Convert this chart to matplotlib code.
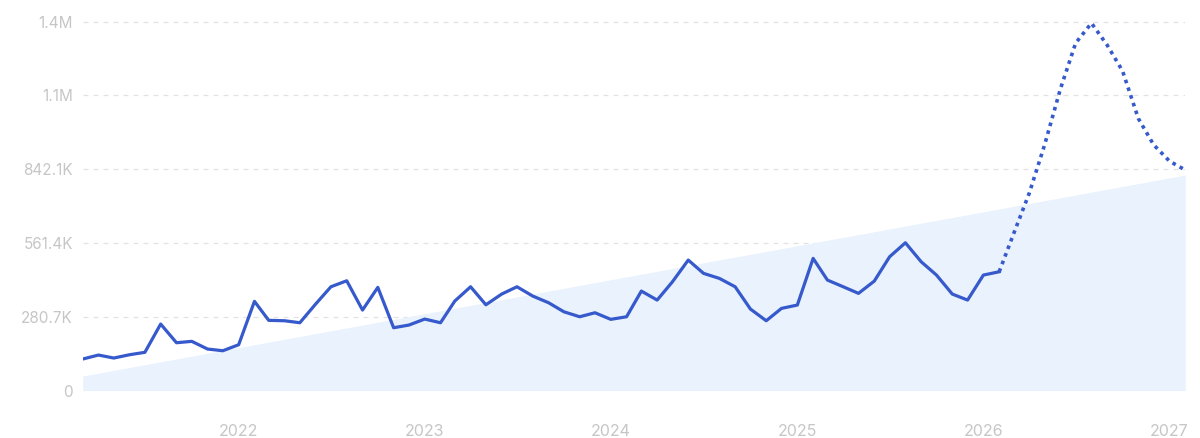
import matplotlib
matplotlib.use("Agg")
import matplotlib.pyplot as plt
import matplotlib.dates as dates
import pandas as pd

# monthly search volume, Mar 2021 .. Feb 2026 (actual)
actual_values = [
    119.8e3, 135.0e3, 123.6e3, 136.2e3, 145.3e3, 252.9e3, 181.8e3, 187.1e3, 157.8e3, 151.4e3,
    174.2e3, 339.3e3, 267.0e3, 265.5e3, 257.9e3, 329.0e3, 394.8e3, 417.6e3, 306.2e3, 392.5e3,
    238.9e3, 249.1e3, 271.9e3, 257.9e3, 340.4e3, 394.8e3, 326.3e3, 367.0e3, 394.8e3, 359.4e3,
    334.0e3, 299.7e3, 280.7e3, 295.9e3, 270.8e3, 280.7e3, 378.4e3, 344.2e3, 413.8e3, 496.4e3,
    445.8e3, 426.7e3, 394.8e3, 310.0e3, 265.5e3, 312.6e3, 325.2e3, 502.8e3, 420.3e3, 394.8e3,
    369.7e3, 416.5e3, 508.9e3, 562.2e3, 489.9e3, 439.3e3, 367.0e3, 344.2e3, 439.3e3, 451.9e3,
]
# forecast, Feb 2026 .. Feb 2027
forecast_values = [
    451.9e3, 595e3, 751e3, 934e3, 1147e3, 1322e3, 1398e3, 1314e3, 1216e3, 1035e3,
    935e3, 873e3, 839e3,
]
# trend band: start and end value
trend_values = [55e3, 820e3]

y_ticks = [0, 280.7e3, 561.4e3, 842.1e3, 1122.8e3, 1403.5e3]
y_tick_labels = ["0", "280.7K", "561.4K", "842.1K", "1.1M", "1.4M"]
x_tick_years = [2022, 2023, 2024, 2025, 2026, 2027]

actual_dates = pd.date_range("2021-03-01", periods=len(actual_values), freq="MS")
forecast_dates = pd.date_range("2026-02-01", periods=len(forecast_values), freq="MS")
trend_dates = [actual_dates[0], forecast_dates[-1]]

LINE_COLOR = "#3659cc"
FILL_COLOR = "#e9f2fd"
GRID_COLOR = "#e2e2e2"
LABEL_COLOR = "#c6c6c6"

plt.rcParams["font.family"] = ["Inter", "DejaVu Sans"]

fig = plt.figure(figsize=(12, 4.38), dpi=100)
ax = fig.add_axes([0.0689, 0.1084, 0.9188, 0.876])

ax.fill_between(trend_dates, [0, 0], trend_values, color=FILL_COLOR, linewidth=0, zorder=1)
ax.plot(actual_dates, actual_values, color=LINE_COLOR, linewidth=2.3,
        solid_joinstyle="round", zorder=3)
ax.plot(forecast_dates, forecast_values, color=LINE_COLOR, linewidth=2.6,
        linestyle=(0, (1.0, 1.25)), dash_capstyle="butt", zorder=3)

ax.set_xlim(actual_dates[0], forecast_dates[-1])
ax.set_ylim(0, 1460e3)

ax.set_yticks(y_ticks)
ax.set_yticklabels(y_tick_labels)
ax.set_xticks([pd.Timestamp(f"{y}-01-01") for y in x_tick_years])
ax.xaxis.set_major_formatter(dates.DateFormatter("%Y"))

for val in y_ticks[1:]:
    ax.axhline(val, color=GRID_COLOR, linewidth=0.9, linestyle=(0, (4, 4)), zorder=0)
ax.axhline(0, color="#e4ebf5", linewidth=1, zorder=2)

for side in ["top", "right", "left", "bottom"]:
    ax.spines[side].set_visible(False)

ax.tick_params(axis="y", length=0, pad=7, labelsize=11, labelcolor=LABEL_COLOR)
ax.tick_params(axis="x", length=0, pad=24, labelsize=11.5, labelcolor=LABEL_COLOR)

plt.savefig("out.png", dpi=100)
plt.close()
